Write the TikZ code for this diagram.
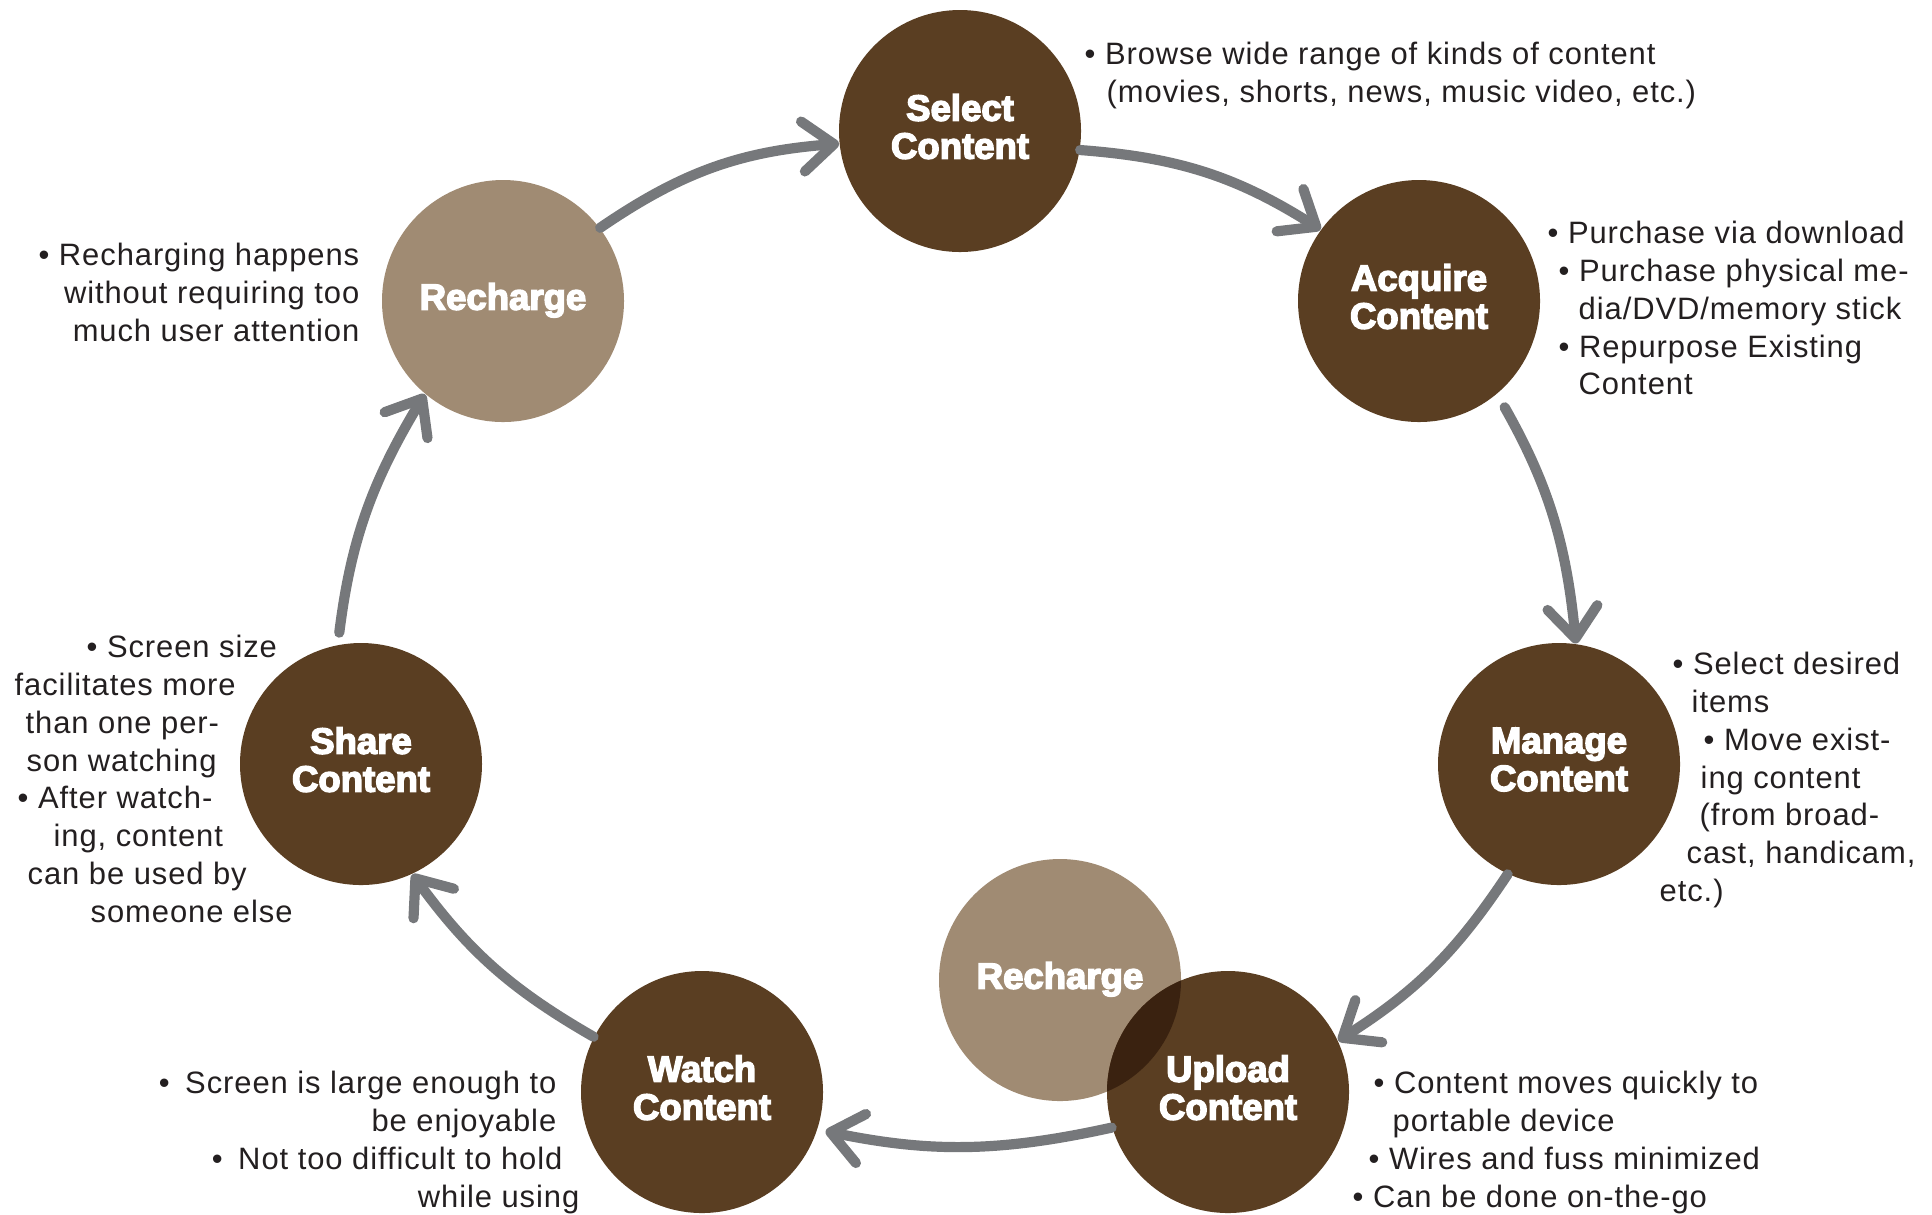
\documentclass[tikz,border=0pt]{standalone}
\usepackage{fontspec}
\setmainfont{Liberation Sans}[LetterSpace=3]
\newfontfamily\headfont{Liberation Sans Bold}[FakeBold=4]
\usetikzlibrary{arrows.meta}
\definecolor{stageBrown}{RGB}{90,62,34}
\definecolor{rechTan}{RGB}{160,139,115}
\definecolor{overlapBrown}{RGB}{58,34,16}
\definecolor{arrowGray}{RGB}{118,120,123}
\definecolor{noteInk}{RGB}{35,31,32}

\begin{document}
\begin{tikzpicture}[
  stage/.style={circle, fill=stageBrown, minimum size=2.42cm, inner sep=0pt, text=white, align=center, text depth=2.6pt, font=\headfont\fontsize{10.4}{10.8}\selectfont},
  recharge/.style={stage, fill=rechTan},
  flow/.style={draw=arrowGray, line width=2.9pt, line cap=round, -{Straight Barb[length=3.1mm, width=5mm, round]}},
  note/.style={text=noteInk, inner sep=0pt, align=left, font=\fontsize{8.8}{10.8}\selectfont}]
  \useasboundingbox (0,0) rectangle (19.32,-12.14);
  % Stages of the cycle
  \node[stage] (select) at (9.60,-1.31) {Select\\Content};
  \node[stage] (acquire) at (14.19,-3.01) {Acquire\\Content};
  \node[stage] (manage) at (15.59,-7.64) {Manage\\Content};
  \node[recharge] (rechLow) at (10.60,-9.80) {Recharge};
  \node[stage] (upload) at (12.28,-10.92) {Upload\\Content};
  \node[stage] (watch) at (7.02,-10.92) {Watch\\Content};
  \node[stage] (share) at (3.61,-7.64) {Share\\Content};
  \node[recharge] (rechTop) at (5.03,-3.01) {Recharge};
  % Darker where the two circles overlap
  \begin{scope}
    \clip (rechLow.center) circle (1.21);
    \fill[overlapBrown] (upload.center) circle (1.21);
  \end{scope}
  % Arrows
  \draw[flow] (rechTop.37) to[bend left=15] (select.186);
  \draw[flow] (select.-9) to[bend left=14] (acquire.144);
  \draw[flow, shorten <=0.15cm] (acquire.-50) to[bend left=12] (manage.82);
  \draw[flow] (manage.245) to[bend left=12] (upload.25);
  \draw[flow, shorten >=0.08cm] (upload.197) to[bend left=12] (watch.-18);
  \draw[flow] (watch.153) to[bend left=12] (share.-65);
  \draw[flow, shorten <=0.12cm] (share.101) to[bend left=12] (rechTop.230);
  % Notes
  \node[note, anchor=north west] (selectNote) at (10.84,-0.41)
    {• Browse wide range of kinds of content\\
     \hspace*{0.22cm}(movies, shorts, news, music video, etc.)};
  \node[note, anchor=north west] (acquireNote) at (15.47,-2.20)
    {• Purchase via download\\
     \hspace*{0.11cm}• Purchase physical me-\\
     \hspace*{0.31cm}dia/DVD/memory stick\\
     \hspace*{0.11cm}• Repurpose Existing\\
     \hspace*{0.31cm}Content};
  \node[note, anchor=north west] (manageNote) at (16.59,-6.51)
    {\hspace*{0.13cm}• Select desired\\
     \hspace*{0.32cm}items\\
     \hspace*{0.44cm}• Move exist-\\
     \hspace*{0.41cm}ing content\\
     \hspace*{0.40cm}(from broad-\\
     \hspace*{0.27cm}cast, handicam,\\
     etc.)};
  \node[note, anchor=north west] (uploadNote) at (13.52,-10.70)
    {\hspace*{0.21cm}• Content moves quickly to\\
     \hspace*{0.40cm}portable device\\
     \hspace*{0.16cm}• Wires and fuss minimized\\
     • Can be done on-the-go};
  \node[note, anchor=north east, align=right] (watchNote) at (5.80,-10.70)
    {•\hspace{0.5em}Screen is large enough to\rule{0.23cm}{0pt}\\
     be enjoyable\rule{0.23cm}{0pt}\\
     •\hspace{0.5em}Not too difficult to hold\rule{0.17cm}{0pt}\\
     while using};
  \node[note, anchor=north west] (shareNote) at (0.14,-6.34)
    {\hspace*{0.72cm}• Screen size\\
     facilitates more\\
     \hspace*{0.11cm}than one per-\\
     \hspace*{0.12cm}son watching\\
     \hspace*{0.03cm}• After watch-\\
     \hspace*{0.39cm}ing, content\\
     \hspace*{0.13cm}can be used by\\
     \hspace*{0.76cm}someone else};
  \node[note, anchor=north east, align=right] (rechNote) at (3.60,-2.42)
    {• Recharging happens\\
     without requiring too\\
     much user attention};
\end{tikzpicture}
\end{document}
